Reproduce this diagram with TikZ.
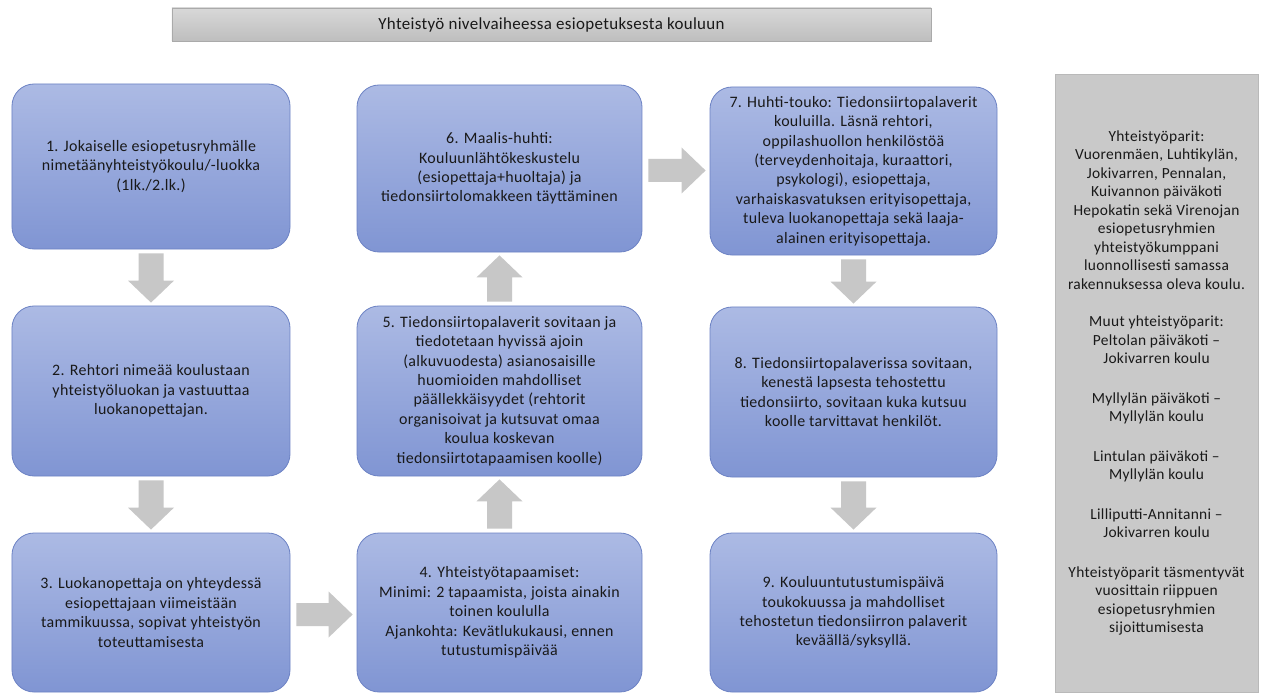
\documentclass[tikz,border=0pt]{standalone}
\usepackage{fontspec}
\setmainfont{Carlito}[LetterSpace=2]
\usetikzlibrary{calc}
\definecolor{boxtop}{RGB}{172,186,228}
\definecolor{boxbot}{RGB}{128,149,211}
\definecolor{boxline}{RGB}{108,130,196}
\definecolor{arrowgray}{RGB}{199,199,199}
\definecolor{panelgray}{RGB}{201,201,201}
\definecolor{panelline}{RGB}{185,185,185}
\definecolor{titletop}{RGB}{216,216,216}
\definecolor{titlebot}{RGB}{190,190,190}
\definecolor{titleline}{RGB}{170,170,170}
\definecolor{txt}{RGB}{25,25,25}
\newcommand\DArr[2]{%
  \fill[arrowgray] ($(#1.south)+(-12.5,4)$) -- ($(#1.south)+(12.5,4)$)
    -- ($(#2.north)+(12.5,-25)$) -- ($(#2.north)+(23,-25)$)
    -- ($(#2.north)+(0,-3)$) -- ($(#2.north)+(-23,-25)$)
    -- ($(#2.north)+(-12.5,-25)$) -- cycle;}
\newcommand\UArr[2]{%
  \fill[arrowgray] ($(#1.north)+(-12.5,-4)$) -- ($(#1.north)+(12.5,-4)$)
    -- ($(#2.south)+(12.5,25)$) -- ($(#2.south)+(23,25)$)
    -- ($(#2.south)+(0,3)$) -- ($(#2.south)+(-23,25)$)
    -- ($(#2.south)+(-12.5,25)$) -- cycle;}
\newcommand\RArr[2]{%
  \coordinate (rs) at ($(#1.east)+(0,2)$);
  \coordinate (rt) at (#2.west |- rs);
  \fill[arrowgray] ($(rs)+(6,-11.5)$) -- ($(rt)+(-28,-11.5)$)
    -- ($(rt)+(-28,-23)$) -- ($(rt)+(-4,0)$) -- ($(rt)+(-28,23)$)
    -- ($(rt)+(-28,11.5)$) -- ($(rs)+(6,11.5)$) -- cycle;}
\begin{document}
\begin{tikzpicture}[x=1bp,y=-1bp,
  stepbox/.style={rounded corners=22bp, draw=boxline, line width=0.8bp,
    top color=boxtop, bottom color=boxbot, align=center, inner sep=0pt,
    font=\fontsize{16}{19.5}\selectfont, text=txt},
  col1/.style={minimum width=278bp},
  col2/.style={minimum width=285bp},
  col3/.style={minimum width=287bp},
  titlebar/.style={draw=titleline, line width=0.6bp, top color=titletop,
    bottom color=titlebot, minimum width=759bp, minimum height=33bp,
    inner sep=0pt, font=\fontsize{17}{20}\selectfont, text=txt},
  sidepanel/.style={draw=panelline, line width=0.6bp, fill=panelgray,
    minimum width=203bp, minimum height=618bp, inner sep=0pt, align=center,
    font=\fontsize{15.5}{18.6}\selectfont, text=txt}]
\useasboundingbox (0,0) rectangle (1263,696);
\fill[white] (0,0) rectangle (1263,696);

\node[titlebar] (title) at (551.5,24.5) {Yhteistyö nivelvaiheessa esiopetuksesta kouluun};

\node[stepbox,col1,minimum height=165bp] (b1) at (151,166.5)
  {1. Jokaiselle esiopetusryhmälle\\ nimetäänyhteistyökoulu/-luokka\\ (1lk./2.lk.)};
\node[stepbox,col1,minimum height=170bp] (b2) at (151,391)
  {2. Rehtori nimeää koulustaan\\ yhteistyöluokan ja vastuuttaa\\ luokanopettajan.};
\node[stepbox,col1,minimum height=159bp] (b3) at (151,612.5)
  {3. Luokanopettaja on yhteydessä\\ esiopettajaan viimeistään\\ tammikuussa, sopivat yhteistyön\\ toteuttamisesta};

\node[stepbox,col2,minimum height=159bp] (b4) at (499.5,612.5)
  {4. Yhteistyötapaamiset:\\ Minimi: 2 tapaamista, joista ainakin\\ toinen koululla\\ Ajankohta: Kevätlukukausi, ennen\\ tutustumispäivää};
\node[stepbox,col2,minimum height=170bp] (b5) at (499.5,391)
  {5. Tiedonsiirtopalaverit sovitaan ja\\ tiedotetaan hyvissä ajoin\\ (alkuvuodesta) asianosaisille\\ huomioiden mahdolliset\\ päällekkäisyydet (rehtorit\\ organisoivat ja kutsuvat omaa\\ koulua koskevan\\ tiedonsiirtotapaamisen koolle)};
\node[stepbox,col2,minimum height=167bp] (b6) at (499.5,168.5)
  {6. Maalis-huhti:\\ Kouluunlähtökeskustelu\\ (esiopettaja+huoltaja) ja\\ tiedonsiirtolomakkeen täyttäminen};

\node[stepbox,col3,minimum height=168bp] (b7) at (853.5,171)
  {7. Huhti-touko: Tiedonsiirtopalaverit\\ kouluilla. Läsnä rehtori,\\ oppilashuollon henkilöstöä\\ (terveydenhoitaja, kuraattori,\\ psykologi), esiopettaja,\\ varhaiskasvatuksen erityisopettaja,\\ tuleva luokanopettaja sekä laaja-\\ alainen erityisopettaja.};
\node[stepbox,col3,minimum height=170bp] (b8) at (853.5,392)
  {8. Tiedonsiirtopalaverissa sovitaan,\\ kenestä lapsesta tehostettu\\ tiedonsiirto, sovitaan kuka kutsuu\\ koolle tarvittavat henkilöt.};
\node[stepbox,col3,minimum height=159bp] (b9) at (853.5,612.5)
  {9. Kouluuntutustumispäivä\\ toukokuussa ja mahdolliset\\ tehostetun tiedonsiirron palaverit\\ keväällä/syksyllä.};

\node[sidepanel] (side) at (1156.5,383)
  {Yhteistyöparit:\\ Vuorenmäen, Luhtikylän,\\ Jokivarren, Pennalan,\\ Kuivannon päiväkoti\\ Hepokatin sekä Virenojan\\ esiopetusryhmien\\ yhteistyökumppani\\ luonnollisesti samassa\\ rakennuksessa oleva koulu.\\[18.6bp]
   Muut yhteistyöparit:\\ Peltolan päiväkoti –\\ Jokivarren koulu\\[21bp]
   Myllylän päiväkoti –\\ Myllylän koulu\\[21bp]
   Lintulan päiväkoti –\\ Myllylän koulu\\[21bp]
   Lilliputti-Annitanni –\\ Jokivarren koulu\\[21bp]
   Yhteistyöparit täsmentyvät\\ vuosittain riippuen\\ esiopetusryhmien\\ sijoittumisesta};

\DArr{b1}{b2}
\DArr{b2}{b3}
\RArr{b3}{b4}
\UArr{b4}{b5}
\UArr{b5}{b6}
\RArr{b6}{b7}
\DArr{b7}{b8}
\DArr{b8}{b9}
\end{tikzpicture}
\end{document}
